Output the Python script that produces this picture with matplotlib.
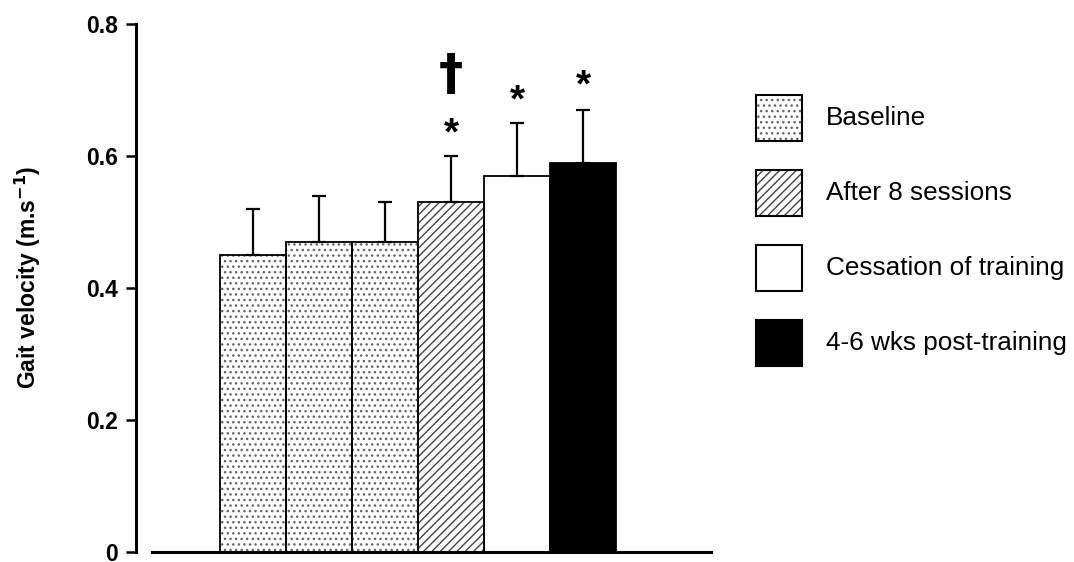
import matplotlib
matplotlib.use("Agg")
import matplotlib.pyplot as plt
from matplotlib.patches import Rectangle

plt.rcParams['font.family'] = ['Liberation Sans', 'DejaVu Sans']
plt.rcParams['hatch.linewidth'] = 1.0

# Data
means = [0.45, 0.47, 0.47, 0.53, 0.57, 0.59]
sds = [0.07, 0.07, 0.06, 0.07, 0.08, 0.08]
groups = ['Baseline', 'Baseline', 'Baseline', 'After 8 sessions',
          'Cessation of training', '4-6 wks post-training']
annotations = [[], [], [], [('*', 0.632), ('\u2020', 0.722)],
               [('*', 0.682)], [('*', 0.705)]]
legend_labels = ['Baseline', 'After 8 sessions', 'Cessation of training',
                 '4-6 wks post-training']
yticks = [0, 0.2, 0.4, 0.6, 0.8]
ytick_labels = ['0', '0.2', '0.4', '0.6', '0.8']

styles = {
    'Baseline': dict(face='white', hatch='...', hcol='#666666'),
    'After 8 sessions': dict(face='white', hatch='////', hcol='#444444'),
    'Cessation of training': dict(face='white', hatch=None, hcol='black'),
    '4-6 wks post-training': dict(face='black', hatch=None, hcol='black'),
}

W, H = 1074, 562
fig = plt.figure(figsize=(W / 100, H / 100), dpi=100)
ax = fig.add_axes([136 / W, (562 - 552) / H, (711 - 136) / W, (552 - 24) / H])

x = list(range(len(means)))
for i, (m, g) in enumerate(zip(means, groups)):
    st = styles[g]
    ax.bar(i, m, width=1.0, color=st['face'], edgecolor=st['hcol'],
           hatch=st['hatch'], linewidth=0, zorder=2)
    ax.bar(i, m, width=1.0, fill=False, edgecolor='black', linewidth=1.3, zorder=3)

ax.errorbar(x, means, yerr=[[0] * len(means), sds], fmt='none', ecolor='black',
            elinewidth=1.6, capsize=5, capthick=1.6, zorder=4)

for i, anns in enumerate(annotations):
    for sym, yv in anns:
        if sym == '\u2020':
            ax.text(i, yv, sym, ha='center', va='center', fontsize=35,
                    fontweight='bold', family=['DejaVu Sans'], zorder=5)
        else:
            ax.text(i, yv, sym, ha='center', va='center', fontsize=28,
                    fontweight='bold', zorder=5)

ax.set_xlim(-1.773, 6.94)
ax.set_ylim(0, 0.8)
ax.set_yticks(yticks)
ax.set_yticklabels(ytick_labels, fontsize=16.5, fontweight='bold')
ax.set_xticks([])
for s in ['top', 'right']:
    ax.spines[s].set_visible(False)
ax.spines['left'].set_linewidth(2.2)
ax.spines['bottom'].set_linewidth(2.2)
ax.spines['bottom'].set_bounds(-1.53, 6.94)
ax.tick_params(axis='y', direction='out', length=7, width=1.8, pad=6)
ax.set_ylabel('Gait velocity (m.s$^{\\mathbf{-1}}$)', fontsize=16.5,
              fontweight='bold')
ax.yaxis.set_label_coords(-0.162, 0.52)

# Legend drawn manually
sq = 46
for k, lab in enumerate(legend_labels):
    st = styles[lab]
    top = 95 + 75 * k
    x0 = 756 / W
    y0 = (H - top - sq) / H
    w = sq / W
    h = sq / H
    fig.add_artist(Rectangle((x0, y0), w, h, transform=fig.transFigure,
                             facecolor=st['face'], edgecolor=st['hcol'],
                             hatch=st['hatch'], linewidth=0))
    fig.add_artist(Rectangle((x0, y0), w, h, transform=fig.transFigure,
                             fill=False, edgecolor='black', linewidth=1.5))
    fig.text(826 / W, (H - top - sq / 2) / H, lab, fontsize=18.8,
             ha='left', va='center')

fig.savefig('out.png', dpi=100)
